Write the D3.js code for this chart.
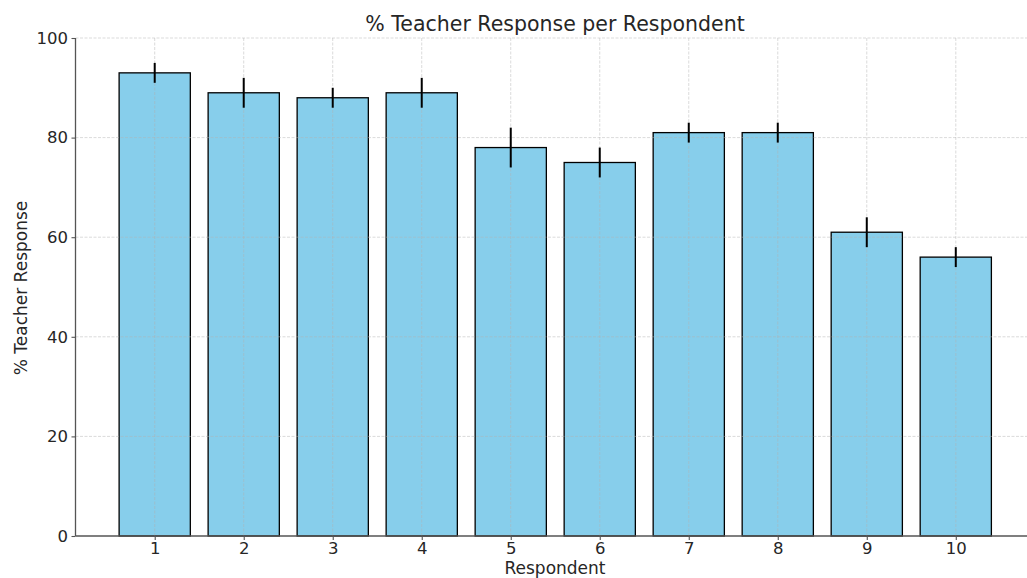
<!DOCTYPE html>
<html>
<head>
<meta charset="utf-8">
<script src="https://cdn.jsdelivr.net/npm/d3@7"></script>
<style>
  body { margin: 0; background: #fff; }
  text { font-family: "DejaVu Sans", sans-serif; fill: #262626; }
</style>
</head>
<body>
<div id="chart"></div>
<script>
(function() {
  var width = 1027, height = 578;

  var respondents = [1, 2, 3, 4, 5, 6, 7, 8, 9, 10];
  var responses = [93, 89, 88, 89, 78, 75, 81, 81, 61, 56];
  var errors = [2, 3, 2, 3, 4, 3, 2, 2, 3, 2];
  var yTicks = [0, 20, 40, 60, 80, 100];

  var data = respondents.map(function(r, i) {
    return { r: r, v: responses[i], e: errors[i] };
  });

  var svg = d3.select("#chart")
    .append("svg")
    .attr("width", width)
    .attr("height", height);

  var x = d3.scaleLinear().domain([0.11, 10.89]).range([75.5, 1035]);
  var y = d3.scaleLinear().domain([0, 100]).range([536, 38]);
  var barW = x(1.4) - x(0.6);

  // bars
  svg.selectAll(".bar")
    .data(data)
    .enter().append("rect")
    .attr("class", "bar")
    .attr("x", function(d) { return x(d.r - 0.4) })
    .attr("y", function(d) { return y(d.v) })
    .attr("width", barW)
    .attr("height", function(d) { return y(0) - y(d.v) })
    .attr("fill", "#87ceeb")
    .attr("stroke", "#000")
    .attr("stroke-width", 1.3)

  // grid on top, like the reference
  var grid = svg.append("g").attr("class", "grid")
  grid.selectAll(".hgrid")
    .data(yTicks.slice(1))
    .enter().append("line")
    .attr("x1", x.range()[0])
    .attr("x2", width)
    .attr("y1", function(d) { return y(d) })
    .attr("y2", function(d) { return y(d) })
    .attr("stroke", "#b0b0b0")
    .attr("stroke-opacity", 0.6)
    .attr("stroke-dasharray", "3,1.5")
    .attr("stroke-width", 0.8)
  grid.selectAll(".vgrid")
    .data(respondents)
    .enter().append("line")
    .attr("x1", function(d) { return x(d) })
    .attr("x2", function(d) { return x(d) })
    .attr("y1", y(0))
    .attr("y2", y(100))
    .attr("stroke", "#b0b0b0")
    .attr("stroke-opacity", 0.6)
    .attr("stroke-dasharray", "3,1.5")
    .attr("stroke-width", 0.8)

  // error bars
  svg.selectAll(".err")
    .data(data)
    .enter().append("line")
    .attr("class", "err")
    .attr("x1", function(d) { return x(d.r) })
    .attr("x2", function(d) { return x(d.r) })
    .attr("y1", function(d) { return y(d.v + d.e) })
    .attr("y2", function(d) { return y(d.v - d.e) })
    .attr("stroke", "#000")
    .attr("stroke-width", 2)

  // axes
  var xAxis = d3.axisBottom(x).tickValues(respondents).tickSize(4).tickPadding(2.5).tickFormat(d3.format("d"))
  var yAxis = d3.axisLeft(y).tickValues(yTicks).tickSize(4).tickPadding(3.5)

  var gx = svg.append("g")
    .attr("transform", "translate(0," + y(0) + ")")
    .call(xAxis)
  var gy = svg.append("g")
    .attr("transform", "translate(" + x.range()[0] + ",0)")
    .call(yAxis)

  gx.select(".domain").attr("d", "M" + x.range()[0] + ",0H" + width)
  gy.select(".domain").attr("d", "M0," + y(0) + "V" + y(100))

  ;[gx, gy].forEach(function(g) {
    g.select(".domain").attr("stroke", "#555").attr("stroke-width", 1.3)
    g.selectAll(".tick line").attr("stroke", "#555").attr("stroke-width", 1.1)
    g.selectAll(".tick text")
      .style("font-family", "DejaVu Sans, sans-serif")
      .style("font-size", "16.5px")
      .attr("fill", "#262626")
  })

  svg.append("text")
    .attr("x", 555)
    .attr("y", 31)
    .style("text-anchor", "middle")
    .style("font-size", "20.5px")
    .text("% Teacher Response per Respondent")

  svg.append("text")
    .attr("x", 555)
    .attr("y", 574)
    .style("text-anchor", "middle")
    .style("font-size", "17px")
    .text("Respondent")

  svg.append("text")
    .attr("transform", "translate(27," + (y(50) + 1) + ") rotate(-90)")
    .style("text-anchor", "middle")
    .style("font-size", "17px")
    .text("% Teacher Response")
})();
</script>
</body>
</html>
